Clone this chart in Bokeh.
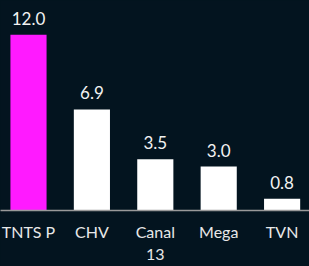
from bokeh.plotting import figure
from bokeh.models import ColumnDataSource, Range1d, FixedTicker, GlobalInlineStyleSheet
from bokeh.core.properties import value
from bokeh.embed import file_html
from bokeh.resources import INLINE

categories = ["TNTS P", "CHV", "Canal\n13", "Mega", "TVN"]
values = [12.0, 6.9, 3.5, 3.0, 0.8]
colors = ["#ff1aff", "#ffffff", "#ffffff", "#ffffff", "#ffffff"]
labels = ["12.0", "6.9", "3.5", "3.0", "0.8"]

bg = "#03141f"
xs = list(range(len(categories)))
src = ColumnDataSource(dict(x=xs, v=values, c=colors, t=labels))

p = figure(width=309, height=266, output_backend="svg", toolbar_location=None,
           x_range=Range1d(-0.4416, 4.432), y_range=Range1d(0, 14.33),
           min_border_left=0, min_border_right=0, min_border_top=0, min_border_bottom=0,
           background_fill_color=bg, border_fill_color=bg, outline_line_color=None,
           stylesheets=[GlobalInlineStyleSheet(css="body{background:%s;margin:0;}" % bg)])

p.vbar(x="x", top="v", width=0.57, bottom=0, color="c", line_color=None, source=src)
p.text(x="x", y="v", text="t", source=src, text_align="center", text_baseline="bottom",
       y_offset=-10, text_color="#f2f2f2", text_font=value("Lato"), text_font_size="17px")

p.grid.visible = False
p.yaxis.visible = False
ax = p.xaxis[0]
ax.ticker = FixedTicker(ticks=xs)
ax.major_label_overrides = {i: c for i, c in enumerate(categories)}
ax.major_tick_line_color = None
ax.minor_tick_line_color = None
ax.axis_line_color = "#9a9a9a"
ax.axis_line_width = 1.5
ax.major_label_text_color = "#e8e8e8"
ax.major_label_text_font = "Lato"
ax.major_label_text_font_size = "16px"
ax.major_label_standoff = 5

open("out.html", "w").write(file_html(p, INLINE))
